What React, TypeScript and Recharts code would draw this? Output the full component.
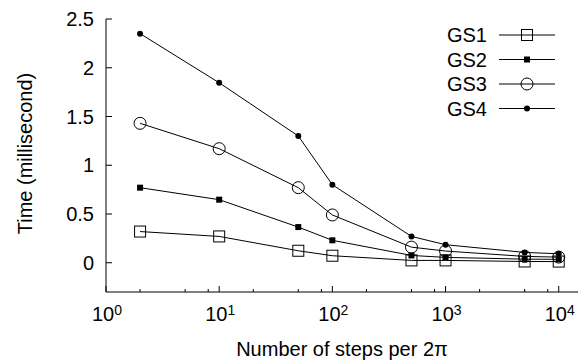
import { LineChart, Line, XAxis, YAxis, Legend } from "recharts";

// steps per 2π (x) and timing series (ms)
const steps = [2, 10, 50, 100, 500, 1000, 5000, 10000];
const gs1 = [0.32, 0.27, 0.123, 0.072, 0.024, 0.024, 0.013, 0.012];
const gs2 = [0.77, 0.647, 0.366, 0.23, 0.075, 0.055, 0.037, 0.035];
const gs3 = [1.43, 1.17, 0.77, 0.49, 0.16, 0.12, 0.065, 0.058];
const gs4 = [2.35, 1.846, 1.3, 0.8, 0.27, 0.185, 0.106, 0.092];
const seriesNames = ["GS1", "GS2", "GS3", "GS4"];
const markerKinds = ["openSquare", "square", "openCircle", "circle"];

const xTicks = [1, 2, 5, 8, 10, 20, 50, 80, 100, 200, 500, 800, 1000, 2000, 5000, 8000, 10000];
const yTicks = [0, 0.5, 1, 1.5, 2, 2.5];

const data = steps.map((x, i) => ({
  x,
  GS1: gs1[i],
  GS2: gs2[i],
  GS3: gs3[i],
  GS4: gs4[i],
}));

const FONT = "'Liberation Sans', Arial, Helvetica, sans-serif";
const FS = 20;

function isMajor(v: number) {
  const l = Math.log10(v);
  return Math.abs(l - Math.round(l)) < 1e-9;
}

function Marker({ kind, cx, cy }: { kind: string; cx: number; cy: number }) {
  if (kind === "openSquare")
    return <rect x={cx - 5.5} y={cy - 5.5} width={11} height={11} fill="none" stroke="#000" strokeWidth={1} />;
  if (kind === "square")
    return <rect x={cx - 3} y={cy - 3} width={6} height={6} fill="#000" />;
  if (kind === "openCircle")
    return <circle cx={cx} cy={cy} r={6} fill="none" stroke="#000" strokeWidth={1} />;
  return <circle cx={cx} cy={cy} r={3} fill="#000" />;
}

function BottomTick(props: any) {
  const { x, y, payload } = props;
  const v = payload.value;
  const major = isMajor(v);
  return (
    <g>
      <line x1={x} x2={x} y1={y} y2={y - (major ? 6 : 3)} stroke="#000" />
      {major && (
        <text x={x + 1} y={y + 29} textAnchor="middle" fontSize={FS} fontFamily={FONT} fill="#000">
          10
          <tspan dy={-6} fontSize={14}>
            {Math.round(Math.log10(v))}
          </tspan>
        </text>
      )}
    </g>
  );
}

function TopTick(props: any) {
  const { x, y, payload } = props;
  const major = isMajor(payload.value);
  return <line x1={x} x2={x} y1={y} y2={y + (major ? 6 : 3)} stroke="#000" />;
}

function LeftTick(props: any) {
  const { x, y, payload } = props;
  return (
    <g>
      <line x1={x} x2={x + 6} y1={y} y2={y} stroke="#000" />
      <text x={x - 12} y={y} dy="0.36em" textAnchor="end" fontSize={FS} fontFamily={FONT} fill="#000">
        {payload.value}
      </text>
    </g>
  );
}

function RightTick(props: any) {
  const { x, y } = props;
  return <line x1={x - 6} x2={x} y1={y} y2={y} stroke="#000" />;
}

function renderLegend(props: any) {
  const payload = props.payload ?? [];
  return (
    <svg width={140} height={100}>
      {payload.map((p: any, i: number) => {
        const y = 15 + 24.5 * i;
        return (
          <g key={p.value}>
            <text x={57} y={y} dy="0.36em" textAnchor="end" fontSize={FS} fontFamily={FONT} fill="#000">
              {p.value}
            </text>
            <line x1={69} x2={125} y1={y} y2={y} stroke="#000" />
            <Marker kind={markerKinds[i]} cx={97} cy={y} />
          </g>
        );
      })}
    </svg>
  );
}

export default function App() {
  return (
    <div style={{ position: "absolute", left: 0, top: 0, background: "#fff" }}>
      <LineChart width={578} height={360} data={data} margin={{ top: 19, right: 0, bottom: 0, left: 0 }}>
        <XAxis
          xAxisId="b"
          dataKey="x"
          type="number"
          scale="log"
          domain={[1, 14800]}
          allowDataOverflow
          ticks={xTicks}
          interval={0}
          height={68}
          tickSize={0}
          tickMargin={0}
          tickLine={false}
          tick={BottomTick}
          axisLine={{ stroke: "#000" }}
          label={{
            content: (lp: any) => {
              const vb = lp.viewBox;
              return (
                <text x={vb.x + vb.width / 2} y={vb.y + 64} textAnchor="middle" fontSize={FS} fontFamily={FONT} fill="#000">
                  Number of steps per 2π
                </text>
              );
            },
          }}
        />
        <XAxis
          xAxisId="t"
          orientation="top"
          dataKey="x"
          type="number"
          scale="log"
          domain={[1, 14800]}
          allowDataOverflow
          ticks={xTicks}
          interval={0}
          height={0}
          tickSize={0}
          tickMargin={0}
          tickLine={false}
          tick={TopTick}
          axisLine={{ stroke: "#000" }}
        />
        <YAxis
          yAxisId="l"
          type="number"
          domain={[-0.3, 2.5]}
          allowDataOverflow
          ticks={yTicks}
          interval={0}
          width={106}
          tickSize={0}
          tickMargin={0}
          tickLine={false}
          tick={LeftTick}
          axisLine={{ stroke: "#000" }}
          label={{
            content: (lp: any) => {
              const vb = lp.viewBox;
              const cy = vb.y + vb.height / 2 - 2;
              return (
                <text
                  x={32}
                  y={cy}
                  transform={`rotate(-90 32 ${cy})`}
                  textAnchor="middle"
                  fontSize={FS}
                  fontFamily={FONT}
                  fill="#000"
                >
                  Time (millisecond)
                </text>
              );
            },
          }}
        />
        <YAxis
          yAxisId="r"
          orientation="right"
          type="number"
          domain={[-0.3, 2.5]}
          allowDataOverflow
          ticks={yTicks}
          interval={0}
          width={0}
          tickSize={0}
          tickMargin={0}
          tickLine={false}
          tick={RightTick}
          axisLine={false}
        />
        <Legend
          layout="vertical"
          align="center"
          verticalAlign="middle"
          content={renderLegend}
          wrapperStyle={{ left: 430, top: 20, width: 140, height: 100 }}
        />
        {seriesNames.map((name, i) => (
          <Line
            key={name}
            xAxisId="b"
            yAxisId="l"
            dataKey={name}
            name={name}
            stroke="#000"
            strokeWidth={1}
            isAnimationActive={false}
            dot={(p: any) => <Marker key={`${name}-${p.index}`} kind={markerKinds[i]} cx={p.cx} cy={p.cy} />}
            activeDot={false}
          />
        ))}
      </LineChart>
    </div>
  );
}
